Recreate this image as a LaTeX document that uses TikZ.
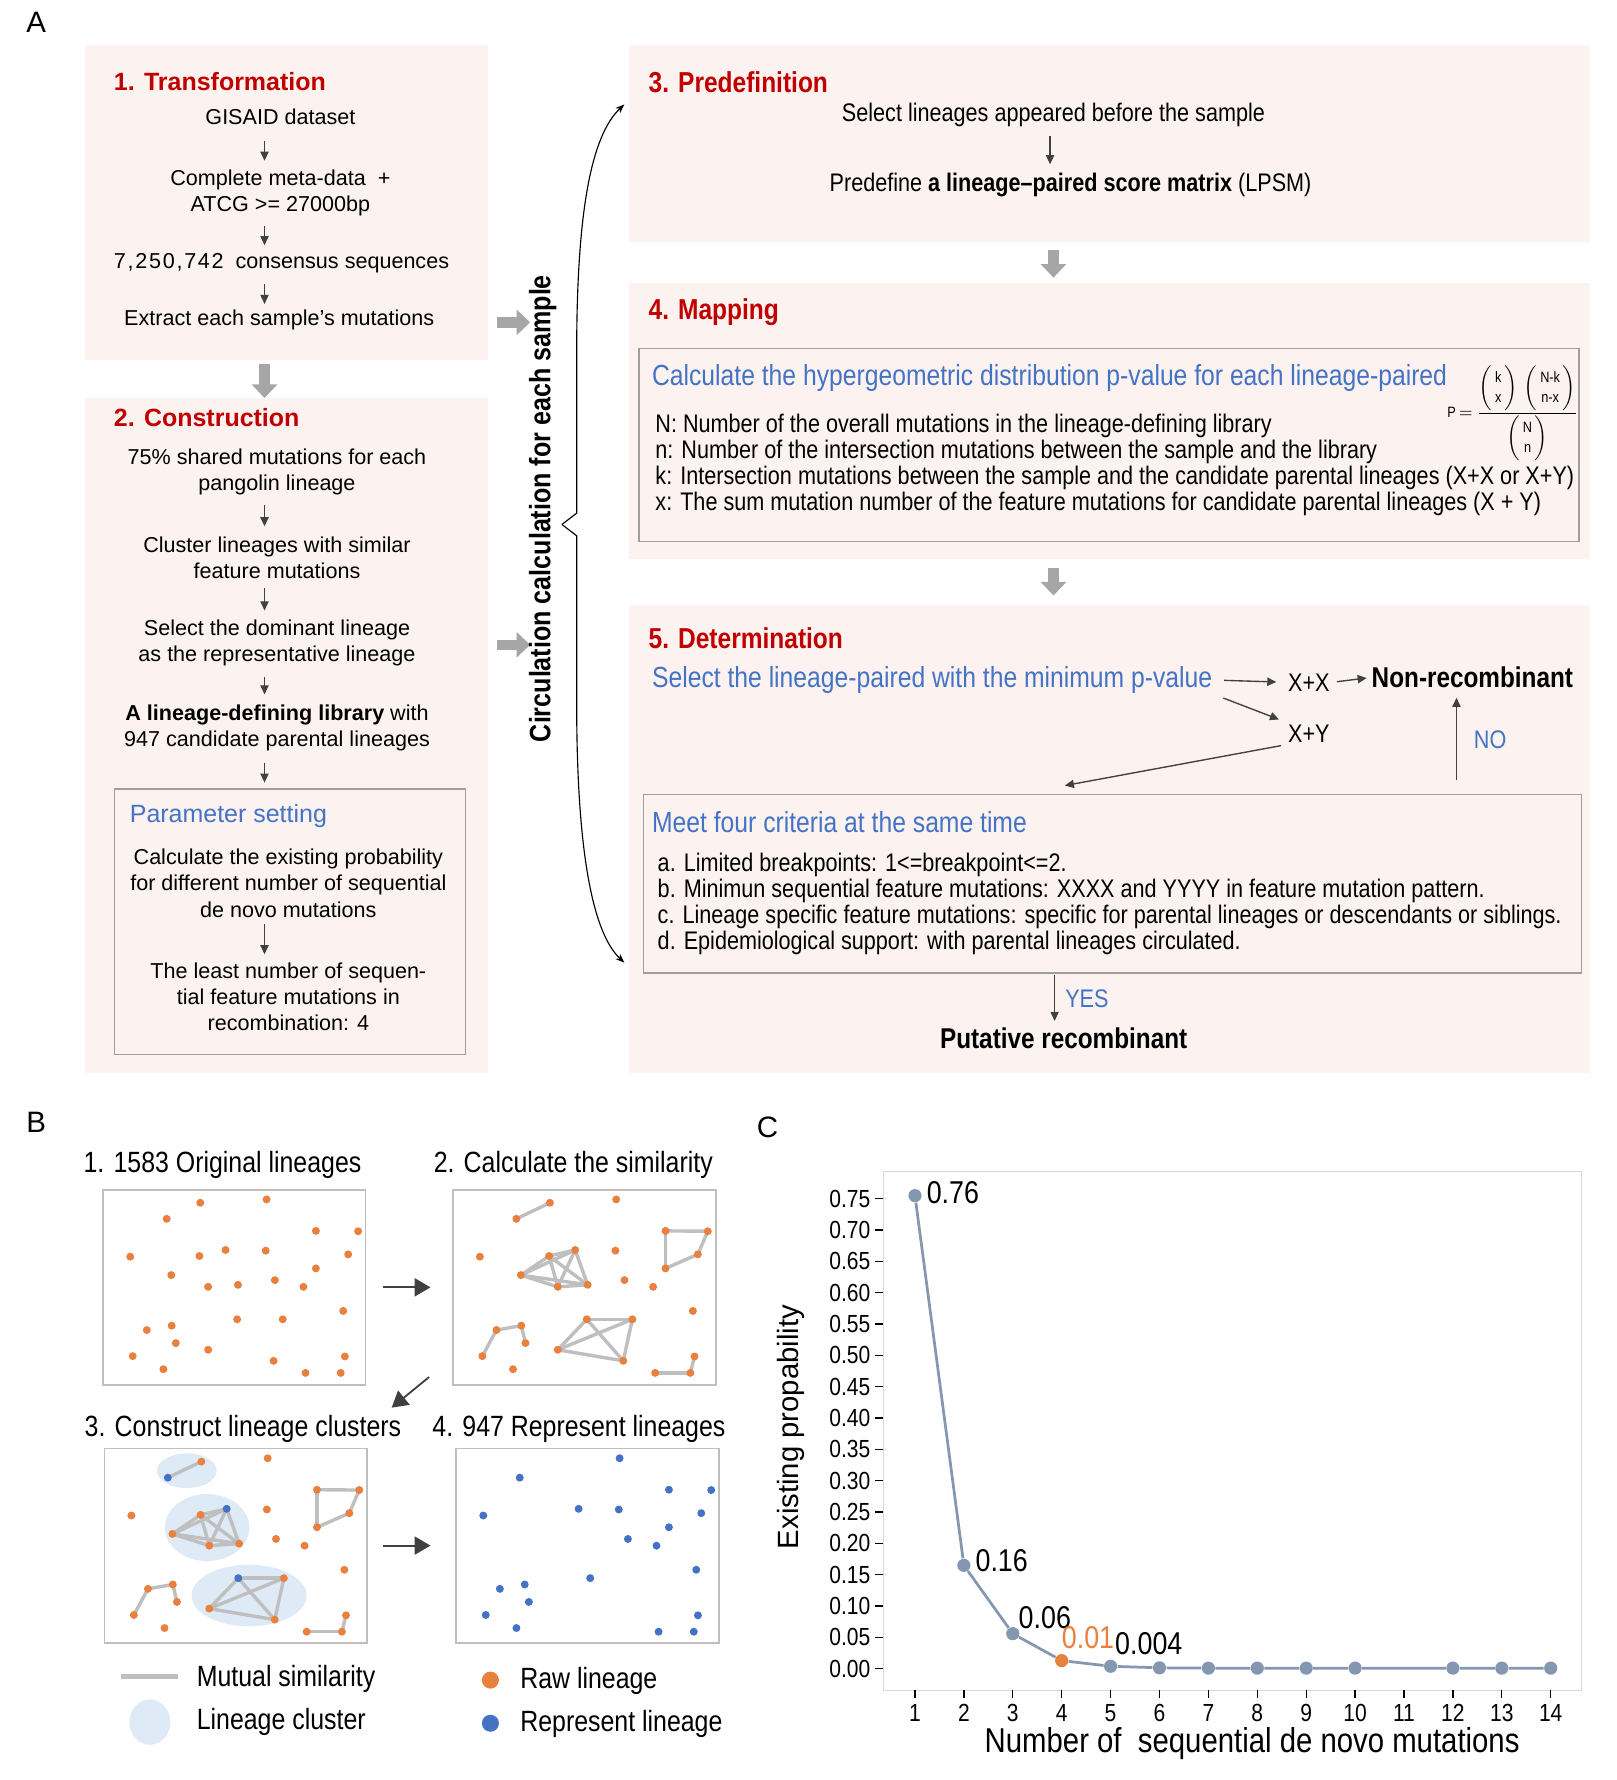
\documentclass[tikz,border=0pt]{standalone}
\usepackage{amsmath}
\usepackage{fontspec}
\setmainfont{Liberation Sans}
\newfontfamily\narrow{Liberation Sans}[FakeStretch=0.85]
\usetikzlibrary{arrows.meta,calc}
\definecolor{boxpink}{HTML}{FCF3F0}
\definecolor{titlered}{HTML}{C00000}
\definecolor{tblue}{HTML}{4472C4}
\definecolor{dorange}{HTML}{E8803E}
\definecolor{dblue}{HTML}{4472C4}
\definecolor{edgegray}{HTML}{BFBFBF}
\definecolor{clfill}{HTML}{DEEBF7}
\definecolor{blockgray}{HTML}{A6A6A6}
\definecolor{arrgray}{HTML}{404040}
\definecolor{plotcol}{HTML}{8497B0}
\definecolor{framegray}{HTML}{D9D9D9}
\newcommand\mt[1]{\text{\narrow #1}}
\newcommand\mybin[2]{\left(\begin{array}{@{\hspace{1.2pt}}c@{\hspace{1.2pt}}}\mt{#1}\\\mt{#2}\end{array}\right)}
\def\allpts{1/234/39,2/394/29,3/153/87,4/513/123,5/615/124,6/65/200,7/232/198,8/295/180,9/392/182,10/591/193,11/164/255,12/513/235,13/253/290,14/325/284,15/414/270,16/483/290,17/579/362,18/323/387,19/433/387,20/105/419,21/165/406,22/175/458,23/253/478,24/71/497,25/583/498,26/411/511,27/145/536,28/488/547,29/573/547}
\def\alledges{3/1,4/5,5/10,10/12,12/4,7/8,7/11,7/13,7/14,8/11,8/13,8/14,11/13,11/14,13/14,18/19,18/23,18/26,19/23,19/26,23/26,24/20,20/21,21/22,28/29,29/25}
\begin{document}
\begin{tikzpicture}[x=0.5pt,y=-0.5pt,
  pinkbox/.style={fill=boxpink, draw=none, inner sep=0pt},
  greybox/.style={draw=gray!75, line width=0.6pt, inner sep=0pt},
  txt/.style={font=\fontsize{9.5}{11.5}\selectfont, align=center, inner sep=1pt},
  ttl/.style={font=\bfseries\fontsize{11}{13}\selectfont, text=titlered, anchor=west, inner sep=0pt},
  ptitle/.style={font=\fontsize{11}{13}\selectfont, text=tblue, anchor=west, inner sep=0pt},
  ntxt/.style={font=\narrow\fontsize{11.2}{11.5}\selectfont, inner sep=1pt},
  nline/.style={font=\narrow\fontsize{11.2}{11.5}\selectfont, inner sep=0pt, anchor=west},
  nttl/.style={font=\narrow\bfseries\fontsize{12.7}{14}\selectfont, text=titlered, anchor=west, inner sep=0pt},
  nblue/.style={font=\narrow\fontsize{12.8}{14}\selectfont, text=tblue, anchor=west, inner sep=0pt},
  nbold/.style={font=\narrow\bfseries\fontsize{12.6}{14}\selectfont, inner sep=1pt},
  lbl/.style={font=\fontsize{13}{15}\selectfont, inner sep=0pt},
  smallarr/.style={draw=arrgray, line width=0.6pt, -{Triangle[length=4pt,width=3.6pt]}},
  blockarr/.style={draw=blockgray, line width=4.5pt, -{Triangle[length=6pt,width=11pt]}},
  bracestyle/.style={draw=black, line width=0.5pt, -{Stealth[length=4pt,width=3pt]}},
  btitle/.style={font=\narrow\fontsize{12.9}{14}\selectfont, inner sep=0pt},
  bbox/.style={draw=edgegray, line width=0.8pt, inner sep=0pt},
  edge/.style={draw=edgegray, line width=1.5pt},
  barr/.style={draw=arrgray, line width=0.8pt, -{Triangle[length=7pt,width=8pt]}},
  ticklab/.style={font=\narrow\fontsize{10.9}{12}\selectfont, inner sep=0pt},
  tickline/.style={draw=black, line width=0.6pt},
  pmark/.style={circle, fill=plotcol, minimum size=5.8pt, inner sep=0pt},
  pline/.style={draw=plotcol, line width=1.2pt},
  dlab/.style={font=\narrow\fontsize{13.9}{15}\selectfont, anchor=west, inner sep=0pt}
]
\useasboundingbox (0,0) rectangle (1424,1568);
\fill[white] (0,0) rectangle (1424,1568);

% ================= Panel A =================
\node[lbl] (labA) at (32,20) {A};
\coordinate (px) at (233,0);

% Box 1
\node[pinkbox, minimum width=177.5pt, minimum height=138.5pt] (b1) at (252.5,178.5) {};
\node[ttl] (t1) at (100,72) {1. Transformation};
\node[txt] (g1) at (247,103) {GISAID dataset};
\node[txt] (g2) at (247,170) {Complete meta-data \ +\\ATCG >= 27000bp};
\node[txt] (g3) at (248,232) {{\addfontfeature{LetterSpace=8}7,250,742}\ \ consensus sequences};
\node[txt] (g4) at (246,282) {Extract each sample’s mutations};
\draw[smallarr, shorten <=6pt, shorten >=2.8pt] (g1.south -| px) -- (g2.north -| px);
\draw[smallarr, shorten <=3.3pt, shorten >=2.5pt] (g2.south -| px) -- (g3.north -| px);
\draw[smallarr, shorten <=3.5pt, shorten >=1.5pt] (g3.south -| px) -- (g4.north -| px);

% Box 2
\node[pinkbox, minimum width=177.5pt, minimum height=297pt] (b2) at (252.5,648) {};
\node[ttl] (t2) at (100,368) {2. Construction};
\node[txt] (s1) at (244,415.5) {75\% shared mutations for each\\pangolin lineage};
\node[txt] (s2) at (244,491.5) {Cluster lineages with similar\\feature mutations};
\node[txt] (s3) at (244,566.5) {Select the dominant lineage\\as the representative lineage};
\node[txt] (s4) at (244,641.5) {\textbf{A lineage-defining library} with\\947 candidate parental lineages};
\node[greybox, fill=boxpink, minimum width=154.5pt, minimum height=117pt] (pbox) at (255.5,812) {};
\node[ptitle] (pt) at (114,719) {Parameter setting};
\node[txt] (p1) at (254,778) {Calculate the existing probability\\for different number of sequential\\de novo mutations};
\node[txt] (p2) at (254,878) {The least number of sequen-\\tial feature mutations in\\recombination: 4};
\draw[smallarr, shorten <=3.5pt, shorten >=3.5pt] (s1.south -| px) -- (s2.north -| px);
\draw[smallarr, shorten <=3pt, shorten >=3pt] (s2.south -| px) -- (s3.north -| px);
\draw[smallarr, shorten <=3.5pt, shorten >=3.5pt] (s3.south -| px) -- (s4.north -| px);
\draw[smallarr, shorten <=4pt, shorten >=2.5pt] (s4.south -| px) -- (pbox.north -| px);
\draw[smallarr, shorten <=2pt, shorten >=2.5pt] (p1.south -| px) -- (p2.north -| px);

% Box 3
\node[pinkbox, minimum width=423.5pt, minimum height=86.5pt] (b3) at (977.5,126.5) {};
\node[nttl] (t3) at (571,72) {3. Predefinition};
\node[ntxt] (sel3) at (928,101) {Select lineages appeared before the sample};
\node[ntxt] (predef) at (943,163) {Predefine \textbf{a lineage–paired score matrix} (LPSM)};
\coordinate (s3x) at (925,0);
\draw[smallarr, shorten <=3pt, shorten >=2.7pt] (sel3.south -| s3x) -- (predef.north -| s3x);

% Box 4
\node[pinkbox, minimum width=423.5pt, minimum height=121.5pt] (b4) at (977.5,370.5) {};
\node[nttl] (t4) at (571,275) {4. Mapping};
\node[greybox, minimum width=414pt, minimum height=85pt] (mbox) at (977,392) {};
\node[nblue] (m1) at (574,333) {Calculate the hypergeometric distribution p-value for each lineage-paired};
\node[nline] (mN) at (577,375) {N: Number of the overall mutations in the lineage-defining library};
\node[nline] (mn) at (577,398) {n: Number of the intersection mutations between the sample and the library};
\node[nline] (mk) at (577,421) {k: Intersection mutations between the sample and the candidate parental lineages (X+X or X+Y)};
\node[nline] (mx) at (577,444) {x: The sum mutation number of the feature mutations for candidate parental lineages (X + Y)};
\node[font=\narrow\fontsize{6.6}{7.2}\selectfont, inner sep=0pt] (fml) at (1333,364) {$\renewcommand{\arraystretch}{1.25}\mt{P}\,{=}\,\dfrac{\mybin{k}{x}\,\mybin{N-k}{n-x}}{\mybin{N}{n}}$};

% Box 5
\node[pinkbox, minimum width=423.5pt, minimum height=206pt] (b5) at (977.5,739) {};
\node[nttl] (t5) at (571,562) {5. Determination};
\node[nblue] (sel5) at (574,599) {Select the lineage-paired with the minimum p-value};
\node[ntxt] (xx) at (1153,601) {X+X};
\node[nbold] (nonrec) at (1297,597) {Non-recombinant};
\node[ntxt] (xy) at (1153,646) {X+Y};
\node[ntxt, text=tblue, anchor=west] (no) at (1296,652) {NO};
\node[greybox, minimum width=413pt, minimum height=78.5pt] (crit) at (980,778.5) {};
\node[nblue] (c0) at (574,724) {Meet four criteria at the same time};
\node[ntxt, anchor=west, align=left] (clist) at (577,796) {a. Limited breakpoints: 1<=breakpoint<=2.\\b. Minimun sequential feature mutations: XXXX and YYYY in feature mutation pattern.\\c. Lineage specific feature mutations: specific for parental lineages or descendants or siblings.\\d. Epidemiological support: with parental lineages circulated.};
\node[ntxt, text=tblue, anchor=west] (yes) at (936,880) {YES};
\node[nbold] (put) at (937,915) {Putative recombinant};
\coordinate (cin) at (938,692);
\coordinate (nox) at (1283,0);
\coordinate (yesx) at (929,0);
\draw[smallarr, shorten <=5pt, shorten >=4pt] (sel5.east) -- (xx.west);
\draw[smallarr, shorten <=2pt, shorten >=1pt] (xx.east) -- (nonrec.west);
\draw[smallarr, shorten <=5pt, shorten >=3pt] (sel5.south east) -- (xy.north west);
\draw[smallarr, shorten <=2pt] (xy.south west) -- (cin);
\draw[smallarr, shorten <=6pt, shorten >=3pt] (crit.north -| nox) -- (nonrec.south -| nox);
\draw[smallarr, shorten <=0.5pt, shorten >=2pt] (crit.south -| yesx) -- (put.north -| yesx);

% Block arrows
\coordinate (gx1) at (233,0);
\coordinate (gx2) at (928,0);
\coordinate (ga1) at (467,284);
\coordinate (ga2) at (467,568);
\draw[blockarr, shorten <=1.5pt] (b1.south -| gx1) -- (b2.north -| gx1);
\draw[blockarr, shorten <=3.5pt] (b1.east |- ga1) -- (ga1);
\draw[blockarr, shorten <=3.5pt] (b2.east |- ga2) -- (ga2);
\draw[blockarr, shorten <=3.5pt, shorten >=2pt] (b3.south -| gx2) -- (b4.north -| gx2);
\draw[blockarr, shorten <=4pt, shorten >=4pt] (b4.south -| gx2) -- (b5.north -| gx2);

% Rotated label and brace
\node[font=\narrow\bfseries\fontsize{13}{15}\selectfont, rotate=90, inner sep=0pt] (circ) at (478,448) {Circulation calculation for each sample};
\coordinate (brtop) at (550,92);
\coordinate (brbot) at (550,848);
\coordinate (brtip) at (495,462);
\draw[bracestyle] (brtip) -- (508,452) -- (508,310) .. controls (508,190) and (520,120) .. (brtop);
\draw[bracestyle] (brtip) -- (508,472) -- (508,620) .. controls (508,740) and (520,820) .. (brbot);

% ================= Panel B =================
\node[lbl] (labB) at (32,989) {B};
\node[btitle] (bt1) at (196,1026) {1. 1583 Original lineages};
\node[btitle] (bt2) at (505,1026) {2. Calculate the similarity};
\node[btitle] (bt3) at (214,1259) {3. Construct lineage clusters};
\node[btitle] (bt4) at (510,1259) {4. 947 Represent lineages};
\node[bbox, minimum width=115.5pt, minimum height=86pt] (B1) at (206.5,1134) {};
\node[bbox, minimum width=116pt, minimum height=86pt] (B2) at (515,1134) {};
\node[bbox, minimum width=115.5pt, minimum height=85.5pt] (B3) at (207.5,1361.5) {};
\node[bbox, minimum width=115.5pt, minimum height=85.5pt] (B4) at (517.5,1361.5) {};

\begin{scope}[shift={(91,1048)}, xscale=0.365, yscale=0.295]
\foreach \n/\x/\y in \allpts {\coordinate (a\n) at (\x,\y);}
\end{scope}
\begin{scope}[shift={(399,1048)}, xscale=0.365, yscale=0.295]
\foreach \n/\x/\y in \allpts {\coordinate (b\n) at (\x,\y);}
\end{scope}
\begin{scope}[shift={(92,1276)}, xscale=0.365, yscale=0.295]
\foreach \n/\x/\y in \allpts {\coordinate (c\n) at (\x,\y);}
\end{scope}
\begin{scope}[shift={(402,1276)}, xscale=0.365, yscale=0.295]
\foreach \n/\x/\y in \allpts {\coordinate (d\n) at (\x,\y);}
\end{scope}

% box 1 dots
\foreach \n in {1,...,29} {\fill[dorange] (a\n) circle[radius=3.5];}
% box 2
\foreach \u/\v in \alledges {\draw[edge] (b\u) -- (b\v);}
\foreach \n in {1,...,29} {\fill[dorange] (b\n) circle[radius=3.5];}
% box 3
\fill[clfill] (164.6,1295.5) ellipse[x radius=26.3, y radius=15.3];
\fill[clfill] (182.5,1345.6) ellipse[x radius=37.2, y radius=29.5];
\fill[clfill] (219.4,1405.5) ellipse[x radius=50.7, y radius=27.1];
\foreach \u/\v in \alledges {\draw[edge] (c\u) -- (c\v);}
\foreach \n in {1,2,4,5,6,7,9,10,11,12,13,14,15,16,17,19,20,21,22,23,24,25,26,27,28,29} {\fill[dorange] (c\n) circle[radius=3.5];}
\foreach \n in {3,8,18} {\fill[dblue] (c\n) circle[radius=3.5];}
% box 4
\foreach \n in {2,3,4,5,6,8,9,10,12,15,16,17,18,20,21,22,24,25,27,28,29} {\fill[dblue] (d\n) circle[radius=3.5];}

% arrows between boxes
\coordinate (bs) at (378,1213);
\coordinate (be) at (345,1240);
\draw[barr, shorten <=7.5pt, shorten >=9.5pt] (B1.east) -- (B2.west);
\draw[barr] (bs) -- (be);
\draw[barr, shorten <=7pt, shorten >=11pt] (B3.east) -- (B4.west);

% legend
\coordinate (lg1) at (107,1477);
\coordinate (lg2) at (157,1477);
\draw[draw=edgegray, line width=2pt] (lg1) -- (lg2);
\fill[clfill] (132,1517) ellipse[x radius=18, y radius=20];
\fill[dorange] (432,1480) circle[radius=7.5];
\fill[dblue] (432,1518) circle[radius=7.5];
\node[btitle, anchor=west] (lt1) at (173,1479) {Mutual similarity};
\node[btitle, anchor=west] (lt2) at (173,1517) {Lineage cluster};
\node[btitle, anchor=west] (lt3) at (458,1481) {Raw lineage};
\node[btitle, anchor=west] (lt4) at (458,1519) {Represent lineage};

% ================= Panel C =================
\node[lbl] (labC) at (676,993) {C};
\draw[draw=framegray, line width=0.6pt] (778,1032) rectangle (1393,1489);
\foreach \k/\lab in {0/0.00,1/0.05,2/0.10,3/0.15,4/0.20,5/0.25,6/0.30,7/0.35,8/0.40,9/0.45,10/0.50,11/0.55,12/0.60,13/0.65,14/0.70,15/0.75}{
  \draw[tickline] (771,{1470-\k*27.6}) -- (778,{1470-\k*27.6});
  \node[ticklab, anchor=east] (yl\k) at (767,{1470-\k*27.6}) {\lab};
}
\foreach \i in {1,...,14}{
  \draw[tickline] ({806+(\i-1)*43.077},1489) -- ({806+(\i-1)*43.077},1496);
  \node[ticklab] (xl\i) at ({806+(\i-1)*43.077},1509) {\i};
}
\foreach \i/\v in {1/0.755,2/0.165,3/0.056,5/0.004,6/0.0015,7/0.001,8/0.001,9/0.001,10/0.001,12/0.001,13/0.001,14/0.001}{
  \node[pmark] (q\i) at ({806+(\i-1)*43.077},{1470-\v*552}) {};
}
\node[pmark, fill=dorange] (q4) at ({806+3*43.077},{1470-0.013*552}) {};
\draw[pline] (q1) -- (q2) -- (q3) -- (q4) -- (q5) -- (q6) -- (q7) -- (q8) -- (q9) -- (q10) -- (q12) -- (q13) -- (q14);
\node[dlab] (v1) at (816,1051) {0.76};
\node[dlab] (v2) at (859,1375) {0.16};
\node[dlab] (v3) at (897,1425) {0.06};
\node[dlab, text=dorange] (v4) at (935,1443) {0.01};
\node[dlab] (v5) at (982,1448) {0.004};
\node[font=\fontsize{12.9}{14}\selectfont, rotate=90, inner sep=0pt] (ylab) at (697,1257) {Existing propability};
\node[font=\narrow\fontsize{15.2}{17}\selectfont, inner sep=0pt] (xlab) at (1103,1536) {Number of \ sequential de novo mutations};
\end{tikzpicture}
\end{document}
